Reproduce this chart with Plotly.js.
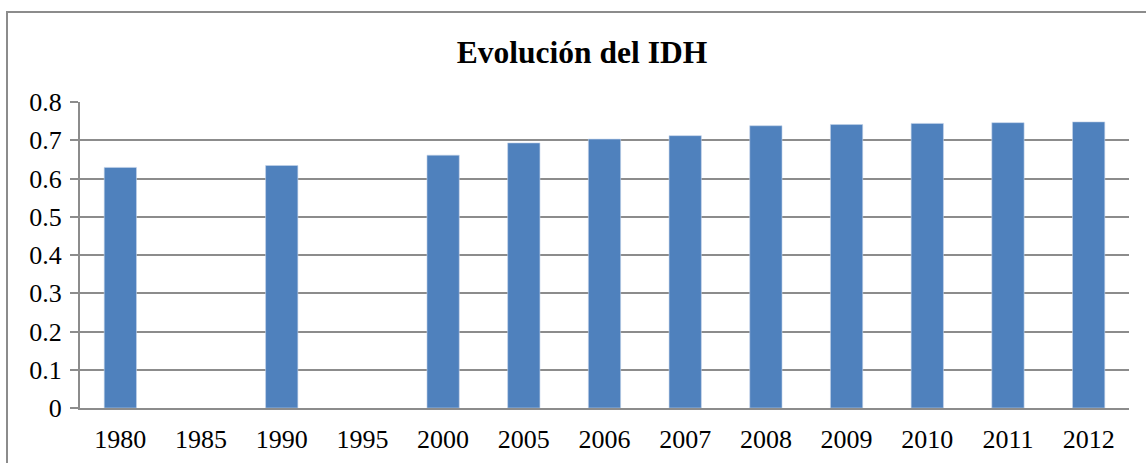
<!DOCTYPE html>
<html>
<head>
<meta charset="utf-8">
<script src="https://cdn.plot.ly/plotly-3.0.1.min.js"></script>
<style>
  html, body { margin: 0; padding: 0; background: #fff; }
  #wrap { position: relative; width: 1146px; height: 463px; overflow: hidden; }
  #chart { position: absolute; left: 0; top: 0; width: 1146px; height: 463px; }
  #frame { position: absolute; left: 6px; top: 11px; width: 1300px; height: 700px;
           border: 2px solid #8c8c8c; pointer-events: none; box-sizing: border-box; }
</style>
</head>
<body>
<div id="wrap">
  <div id="chart"></div>
  <div id="frame"></div>
</div>
<script>
const years = ["1980","1985","1990","1995","2000","2005","2006","2007","2008","2009","2010","2011","2012"];
const idh = [0.629, null, 0.634, null, 0.661, 0.693, 0.703, 0.712, 0.738, 0.741, 0.744, 0.746, 0.748];
const yTicks = [0, 0.1, 0.2, 0.3, 0.4, 0.5, 0.6, 0.7, 0.8];
const yTickText = ["0", "0.1", "0.2", "0.3", "0.4", "0.5", "0.6", "0.7", "0.8"];
const chartTitle = "Evolución del IDH";

const font = "'Liberation Serif', 'Times New Roman', serif";

Plotly.newPlot("chart", [{
  type: "bar",
  x: years,
  y: idh,
  marker: { color: "#4F81BD", line: { color: "#c5d4ea", width: 0.6 } },
  hoverinfo: "x+y"
}], {
  width: 1146,
  height: 463,
  margin: { l: 80, r: 17, t: 102, b: 55, pad: 0 },
  paper_bgcolor: "rgba(0,0,0,0)",
  plot_bgcolor: "#fff",
  bargap: 0.6,
  showlegend: false,
  font: { family: font, color: "#000", size: 24 },
  title: {
    text: "<b>" + chartTitle + "</b>",
    font: { family: font, size: 31.5, color: "#000" },
    x: 582 / 1146, xref: "container", xanchor: "center",
    y: 1 - 52 / 463, yref: "container", yanchor: "middle"
  },
  xaxis: {
    type: "category",
    showline: true, linecolor: "#8c8c8c", linewidth: 2,
    ticks: "", showgrid: false,
    tickfont: { family: font, size: 26, color: "#000" },
    ticklabelstandoff: 7
  },
  yaxis: {
    range: [0, 0.8],
    tickvals: yTicks, ticktext: yTickText,
    showline: true, linecolor: "#8c8c8c", linewidth: 2,
    ticks: "outside", ticklen: 8, tickcolor: "#8c8c8c", tickwidth: 2,
    showgrid: true, gridcolor: "#8c8c8c", gridwidth: 2,
    zeroline: false,
    tickfont: { family: font, size: 26, color: "#000" },
    ticklabelstandoff: 3
  }
}, { displayModeBar: false, staticPlot: true });
</script>
</body>
</html>
